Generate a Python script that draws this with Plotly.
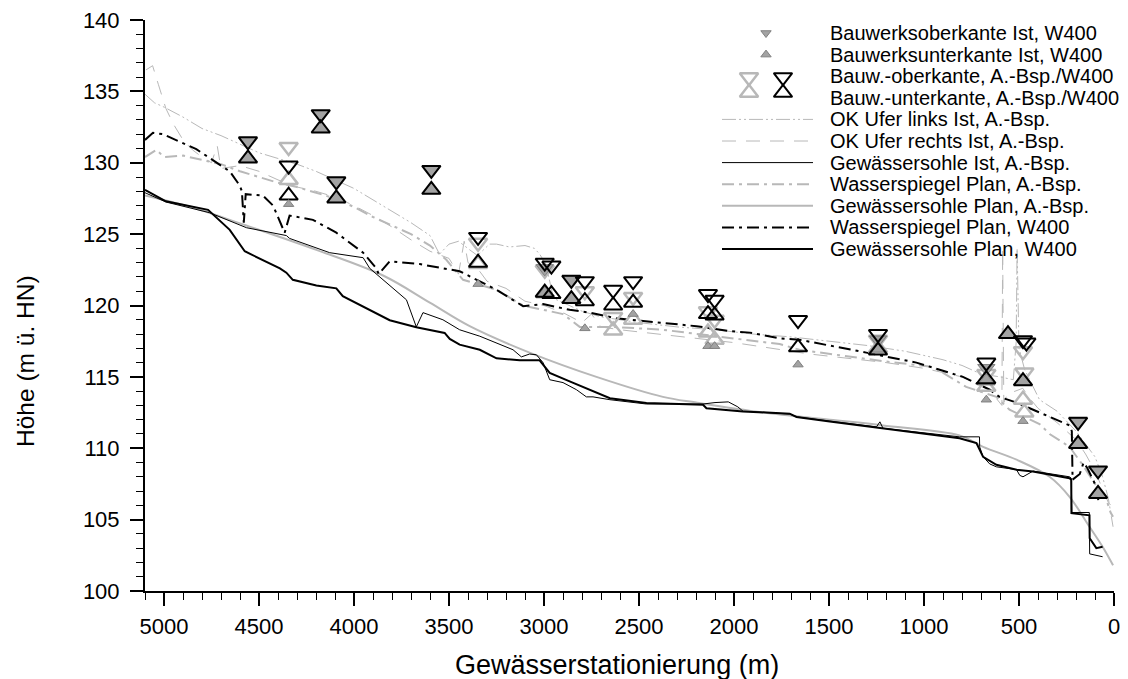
import plotly.graph_objects as go

# Stationierung (m) und Höhen (m ü. HN)

# Gewässersohle Plan, W400 (schwarz, dick)
sohle_w400_s = [5100, 4990, 4768, 4654, 4575, 4390, 4356, 4322, 4198, 4093, 4059, 3954, 3812, 3672,
                3523, 3496, 3444, 3338, 3250, 3128, 3023, 3005, 2970, 2865, 2760, 2724, 2653, 2461,
                2163, 2145, 1953, 1707, 1671, 1496, 1216, 813, 724, 689, 619, 513, 427, 234, 225,
                224, 129, 128, 93, 60]
sohle_w400_h = [128.1, 127.3, 126.7, 125.3, 123.8, 122.6, 122.3, 121.8, 121.4, 121.2, 120.65, 119.95,
                118.97, 118.48, 118.08, 117.66, 117.26, 116.9, 116.3, 116.16, 116.16, 115.86, 115.28,
                114.69, 114.1, 113.9, 113.5, 113.17, 113.05, 112.8, 112.58, 112.42, 112.19, 111.88,
                111.4, 110.7, 110.37, 109.4, 108.84, 108.5, 108.37, 107.9, 107.8, 105.45, 105.3,
                103.7, 103.0, 103.1]

# Gewässersohle Ist, A.-Bsp. (schwarz, dünn)
sohle_ist_s = [5100, 4990, 4760, 4566, 4356, 4339, 4128, 3952, 3917, 3724, 3672, 3637, 3532, 3496,
               3444, 3338, 3163, 3119, 3076, 3040, 3005, 2970, 2900, 2829, 2777, 2742, 2653, 2461,
               2163, 2100, 2030, 1980, 1953, 1707, 1671, 1496, 1250, 1232, 1216, 813, 708, 707, 689,
               654, 619, 513, 496, 479, 426, 234, 225, 222, 130, 128, 60]
sohle_ist_h = [127.9, 127.25, 126.5, 125.45, 124.9, 124.7, 123.7, 123.35, 122.6, 120.4, 118.5, 119.5,
               119.0, 118.7, 118.3, 117.85, 116.9, 116.4, 116.6, 116.55, 116.0, 114.8, 114.6, 114.1,
               113.6, 113.6, 113.4, 113.1, 113.1, 113.2, 113.25, 112.9, 112.6, 112.4, 112.2, 111.9,
               111.5, 111.85, 111.4, 110.8, 110.8, 110.1, 109.4, 108.9, 108.7, 108.5, 108.1, 108.0,
               108.4, 108.0, 107.9, 105.5, 105.5, 102.6, 102.4]

# Gewässersohle Plan, A.-Bsp. (hellgrau, glatt)
sohle_plan_s = [5100, 4832, 4654, 4198, 3847, 3601, 3391, 3076, 2724, 2374, 2198, 1847, 1496, 1216,
                813, 689, 513, 339, 234, 129, 60, 5]
sohle_plan_h = [127.7, 126.8, 126.0, 123.9, 122.1, 120.2, 118.55, 116.7, 115.0, 113.6, 113.2, 112.5,
                112.0, 111.6, 110.9, 110.1, 109.2, 108.0, 106.6, 104.5, 103.1, 101.8]

# Wasserspiegel Plan, W400 (schwarz, Strich-Punkt)
ws_w400_s = [5100, 5058, 5005, 4830, 4654, 4601, 4590, 4580, 4570, 4479, 4426, 4365, 4339, 4216, 4093,
             3952, 3882, 3870, 3812, 3654, 3444, 3374, 3250, 3110, 3005, 2865, 2760, 2619, 2479, 2198,
             2023, 1917, 1760, 1655, 1304, 1040, 795, 654, 603, 513, 234, 222, 218, 180, 160, 140,
             100, 80]
ws_w400_h = [131.6, 132.1, 132.0, 130.95, 129.4, 128.4, 128.0, 125.8, 127.8, 127.7, 127.0, 125.1, 126.3,
             126.0, 125.1, 123.7, 122.6, 122.2, 123.1, 122.9, 122.4, 121.95, 121.1, 119.95, 120.1,
             119.7, 119.5, 119.1, 118.9, 118.55, 118.2, 118.1, 117.7, 117.6, 116.7, 116.0, 115.0,
             114.1, 113.6, 113.2, 111.6, 111.2, 107.8, 108.2, 109.0, 108.6, 107.5, 106.2]

# Wasserspiegel Plan, A.-Bsp. (hellgrau, Strich-Punkt)
ws_bsp_s = [5100, 5040, 5000, 4900, 4800, 4700, 4600, 4500, 4400, 4300, 4200, 4100, 4000, 3900, 3800,
            3700, 3600, 3514, 3426, 3250, 3110, 2900, 2812, 2637, 2374, 2111, 1760, 1655, 1216, 953,
            778, 619, 550, 392, 339, 234, 163, 100, 45, 18, 5]
ws_bsp_h = [130.4, 130.9, 130.4, 130.5, 130.2, 129.9, 129.4, 129.0, 128.6, 128.3, 127.9, 127.5, 126.9,
            126.2, 125.6, 125.0, 124.2, 123.2, 121.8, 121.1, 120.0, 119.4, 118.5, 118.5, 118.3, 117.85,
            117.3, 116.9, 116.1, 115.7, 114.3, 113.6, 112.7, 111.7, 111.0, 110.1, 108.8, 107.5, 106.6,
            105.5, 105.2]

# OK Ufer links Ist, A.-Bsp.
ufer_li_s = [5100, 5050, 5000, 4900, 4800, 4700, 4600, 4500, 4400, 4300, 4200, 4100, 4000, 3900, 3800,
             3700, 3600, 3550, 3500, 3450, 3391, 3350, 3287, 3250, 3182, 3100, 3050, 3023, 2990, 2950,
             2900, 2800, 2700, 2600, 2500, 2300, 2100, 1900, 1700, 1500, 1300, 1100, 900, 800, 700,
             600, 530, 515, 510, 500, 470, 392, 300, 200, 166, 100, 60, 30, 5]
ufer_li_h = [134.8, 134.2, 133.9, 133.2, 132.4, 131.9, 131.3, 130.7, 130.3, 129.9, 129.4, 128.8, 128.2,
             127.4, 126.6, 125.8, 124.9, 123.6, 124.3, 124.5, 123.9, 123.5, 124.3, 124.3, 124.1, 124.2,
             124.0, 123.6, 122.9, 120.5, 120.2, 119.6, 119.2, 119.0, 118.8, 118.5, 118.3, 118.0, 117.8,
             117.5, 117.2, 116.8, 116.2, 115.8, 115.2, 115.0, 114.8, 117.4, 124.0, 117.0, 115.5, 113.4,
             112.6, 111.2, 110.6, 109.4, 108.0, 106.5, 104.5]

# OK Ufer rechts Ist, A.-Bsp.
ufer_re_s = [5095, 5060, 5030, 4990, 4950, 4900, 4850, 4800, 4750, 4720, 4700, 4600, 4500, 4400, 4300,
             4200, 4100, 4000, 3900, 3800, 3700, 3600, 3500, 3450, 3420, 3400, 3350, 3300, 3200, 3100,
             3000, 2900, 2800, 2750, 2700, 2600, 2400, 2200, 2000, 1800, 1600, 1400, 1200, 1000, 800,
             700, 650, 590, 586, 584, 580, 560, 480, 450, 400, 300, 200, 150, 100, 60, 30, 10]
ufer_re_h = [136.5, 136.8, 135.5, 133.8, 132.7, 131.6, 130.9, 130.4, 130.0, 131.2, 129.6, 129.8, 129.4,
             128.8, 128.3, 128.0, 127.6, 127.0, 126.3, 125.5, 124.6, 123.8, 123.3, 122.2, 124.5, 123.0,
             122.6, 121.7, 121.2, 120.3, 120.0, 119.5, 118.8, 119.4, 118.5, 118.3, 118.0, 117.7, 117.4,
             117.0, 116.6, 116.3, 116.0, 115.6, 115.0, 114.4, 114.0, 113.0, 124.0, 120.0, 113.2, 113.8,
             114.2, 113.6, 112.8, 111.8, 110.6, 109.6, 108.4, 107.2, 106.2, 105.9]

# Bauwerksober-/unterkante Ist, W400 (grau gefüllt) - unter den W400-Symbolen
ist_ok_s = [4558, 4175, 4093, 3593, 2996, 2856, 1242, 672, 189, 84]
ist_ok_h = [131.5, 133.4, 128.7, 129.5, 122.6, 121.8, 117.6, 115.6, 111.85, 108.45]
ist_uk_s = [4558, 4175, 4093, 3593, 2996, 2856, 1242, 672, 558, 479, 189, 84]
ist_uk_h = [130.3, 132.4, 127.5, 128.1, 120.8, 120.45, 117.0, 114.7, 118.0, 114.7, 110.3, 106.8]
# einzeln stehende kleine Symbole
ist_uk_einzeln_s = [4344, 3347, 2785, 2531, 2137, 2102, 1663, 672, 479]
ist_uk_einzeln_h = [127.1, 121.5, 118.4, 119.4, 117.15, 117.15, 115.86, 113.4, 111.9]

# Bauw.-oberkante / -unterkante, W400 (schwarz, hohl)
w400_ok_s = [4558, 4344, 4175, 4093, 3593, 3347, 2996, 2961, 2856, 2785, 2636, 2531, 2137, 2102, 1663,
             1242, 672, 479, 461, 189, 84]
w400_ok_h = [131.5, 129.8, 133.4, 128.7, 129.5, 124.8, 123.0, 122.8, 121.8, 121.7, 121.1, 121.7, 120.8,
             120.4, 118.98, 118.0, 116.0, 117.57, 117.4, 111.85, 108.45]
w400_uk_s = [4558, 4344, 4175, 4093, 3593, 3347, 2996, 2961, 2856, 2785, 2636, 2531, 2137, 2102, 1663,
             1242, 672, 558, 479, 189, 84]
w400_uk_h = [130.3, 127.7, 132.4, 127.5, 128.1, 123.0, 120.9, 120.8, 120.45, 120.3, 120.0, 120.2, 119.4,
             119.3, 117.07, 116.84, 114.84, 118.0, 114.7, 110.3, 106.8]

# Bauw.-oberkante / -unterkante, A.-Bsp. (hellgrau, hohl)
bsp_ok_s = [4344, 3347, 2996, 2785, 2636, 2531, 2137, 2102, 1242, 672, 479, 472]
bsp_ok_h = [131.1, 124.4, 122.5, 121.0, 119.2, 120.6, 119.6, 119.0, 117.6, 115.2, 116.8, 115.3]
bsp_uk_s = [4344, 3347, 2636, 2531, 2137, 2102, 1242, 672, 479, 472]
bsp_uk_h = [128.8, 122.9, 118.25, 119.0, 118.1, 117.6, 117.0, 114.3, 113.4, 112.5]

# Legendentexte
legende = ["Bauwerksoberkante Ist, W400", "Bauwerksunterkante Ist, W400",
           "Bauw.-oberkante, A.-Bsp./W400", "Bauw.-unterkante, A.-Bsp./W400",
           "OK Ufer links Ist, A.-Bsp.", "OK Ufer rechts Ist, A.-Bsp.",
           "Gewässersohle Ist, A.-Bsp.", "Wasserspiegel Plan, A.-Bsp.",
           "Gewässersohle Plan, A.-Bsp.", "Wasserspiegel Plan, W400",
           "Gewässersohle Plan, W400"]

# Stile
HELL = "#b8b8b8"
FUELL = "#a3a3a3"
DASH_WS = "12px,5px,3px,5px"
DASH_LI = "14px,3px,2px,3px,2px,3px"
DASH_RE = "14px,10px"
SCHRIFT = "Liberation Sans, Arial, sans-serif"

fig = go.Figure()

# Linien
fig.add_trace(go.Scatter(x=ufer_re_s, y=ufer_re_h, mode="lines",
                         line=dict(color=HELL, width=1, dash=DASH_RE)))
fig.add_trace(go.Scatter(x=ufer_li_s, y=ufer_li_h, mode="lines",
                         line=dict(color=HELL, width=1, dash=DASH_LI)))
fig.add_trace(go.Scatter(x=ws_bsp_s, y=ws_bsp_h, mode="lines",
                         line=dict(color=HELL, width=2, dash=DASH_WS)))
fig.add_trace(go.Scatter(x=sohle_plan_s, y=sohle_plan_h, mode="lines", line_shape="spline",
                         line=dict(color=HELL, width=2)))
fig.add_trace(go.Scatter(x=sohle_ist_s, y=sohle_ist_h, mode="lines",
                         line=dict(color="black", width=1)))
fig.add_trace(go.Scatter(x=ws_w400_s, y=ws_w400_h, mode="lines",
                         line=dict(color="black", width=2, dash=DASH_WS)))
fig.add_trace(go.Scatter(x=sohle_w400_s, y=sohle_w400_h, mode="lines",
                         line=dict(color="black", width=2)))

# Symbole
hohl = "rgba(0,0,0,0)"
fig.add_trace(go.Scatter(x=bsp_ok_s, y=bsp_ok_h, mode="markers",
                         marker=dict(symbol="triangle-down", size=16, color=hohl,
                                     line=dict(color=HELL, width=2.5))))
fig.add_trace(go.Scatter(x=bsp_uk_s, y=bsp_uk_h, mode="markers",
                         marker=dict(symbol="triangle-up", size=16, color=hohl,
                                     line=dict(color=HELL, width=2.5))))
fig.add_trace(go.Scatter(x=ist_ok_s, y=ist_ok_h, mode="markers",
                         marker=dict(symbol="triangle-down", size=15, color=FUELL,
                                     line=dict(color="#808080", width=1))))
fig.add_trace(go.Scatter(x=ist_uk_s, y=ist_uk_h, mode="markers",
                         marker=dict(symbol="triangle-up", size=15, color=FUELL,
                                     line=dict(color="#808080", width=1))))
fig.add_trace(go.Scatter(x=w400_ok_s, y=w400_ok_h, mode="markers",
                         marker=dict(symbol="triangle-down", size=16, color=hohl,
                                     line=dict(color="black", width=2))))
fig.add_trace(go.Scatter(x=w400_uk_s, y=w400_uk_h, mode="markers",
                         marker=dict(symbol="triangle-up", size=16, color=hohl,
                                     line=dict(color="black", width=2))))
fig.add_trace(go.Scatter(x=ist_uk_einzeln_s, y=ist_uk_einzeln_h, mode="markers",
                         marker=dict(symbol="triangle-up", size=9, color=FUELL,
                                     line=dict(color="#808080", width=1))))

# Die Seite hat 8px Rand -> Figur etwas kleiner, damit der Plotbereich im Fenster stimmt
RAND = 8
B, H = 1128 - RAND, 679 - RAND
X0, X1, Y0, Y1 = 145, 1114, 591, 20   # Plotbereich im Fenster (Pixel)

# Pixelkoordinaten im Fenster -> Papierkoordinaten
def px(x):
    return (x - X0) / (X1 - X0)
def py(y):
    return (Y0 - y) / (Y0 - Y1)

# Achsentitel (als Annotation, da in der Vorlage nicht mittig)
fig.add_annotation(x=px(617), y=py(665), xref="paper", yref="paper", text="Gewässerstationierung (m)",
                   showarrow=False, xanchor="center", yanchor="middle",
                   font=dict(size=27, color="black", family=SCHRIFT))
fig.add_annotation(x=px(25), y=py(361), xref="paper", yref="paper", text="Höhe (m ü. HN)",
                   showarrow=False, xanchor="center", yanchor="middle", textangle=-90,
                   font=dict(size=24.5, color="black", family=SCHRIFT))

# Legende von Hand
zeilen = [33 + 21.6 * i for i in range(len(legende))]
for text, y in zip(legende, zeilen):
    fig.add_annotation(x=px(828), y=py(y), xref="paper", yref="paper", text=text,
                       showarrow=False, xanchor="left", yanchor="middle",
                       font=dict(size=20, color="black", family=SCHRIFT))

linien_stil = [(HELL, 1, DASH_LI), (HELL, 1, DASH_RE), ("black", 1, "solid"),
               (HELL, 2, DASH_WS), (HELL, 2, "solid"), ("black", 2, DASH_WS), ("black", 2, "solid")]
for (farbe, breite, strich), y in zip(linien_stil, zeilen[4:]):
    fig.add_shape(type="line", xref="paper", yref="paper", x0=px(722), x1=px(813), y0=py(y), y1=py(y),
                  line=dict(color=farbe, width=breite, dash=strich))

# Legendensymbole auf unsichtbarer Zusatzachse
leg_sym = [
    (px(766), py(zeilen[0]), "triangle-down", 9, FUELL, "#808080", 1),
    (px(766), py(zeilen[1]), "triangle-up", 9, FUELL, "#808080", 1),
    (px(749), py(zeilen[2] + 1), "triangle-down", 16, hohl, HELL, 2.5),
    (px(749), py(zeilen[2] + 16.6), "triangle-up", 16, hohl, HELL, 2.5),
    (px(783), py(zeilen[2] + 1), "triangle-down", 16, hohl, "black", 2),
    (px(783), py(zeilen[2] + 16.6), "triangle-up", 16, hohl, "black", 2),
]
for sx, sy, sym, gr, fa, rand, rb in leg_sym:
    fig.add_trace(go.Scatter(x=[sx], y=[sy], xaxis="x2", yaxis="y2", mode="markers", cliponaxis=False,
                             marker=dict(symbol=sym, size=gr, color=fa, line=dict(color=rand, width=rb))))

achse = dict(showline=True, linewidth=2, linecolor="black", showgrid=False, zeroline=False,
             ticks="outside", ticklen=13, tickwidth=2, tickcolor="black", automargin=False,
             ticklabeloverflow="allow",
             tickfont=dict(size=22, color="black", family=SCHRIFT))

fig.update_layout(
    width=B, height=H,
    margin=dict(l=X0 - RAND, r=1128 - X1, t=Y1 - RAND, b=679 - Y0),
    plot_bgcolor="white", paper_bgcolor="white",
    showlegend=False,
    font=dict(family=SCHRIFT, color="black"),
    xaxis=dict(achse, range=[5100, 0], tick0=0, dtick=500, ticklabelstandoff=2,
               minor=dict(dtick=100, ticks="outside", ticklen=7, tickwidth=1, tickcolor="black", showgrid=False)),
    yaxis=dict(achse, range=[100, 140], tick0=100, dtick=5, ticklabelstandoff=6,
               minor=dict(dtick=1, ticks="outside", ticklen=7, tickwidth=1, tickcolor="black", showgrid=False)),
    xaxis2=dict(overlaying="x", range=[0, 1], visible=False),
    yaxis2=dict(overlaying="y", range=[0, 1], visible=False),
)

fig.write_html("out.html")
